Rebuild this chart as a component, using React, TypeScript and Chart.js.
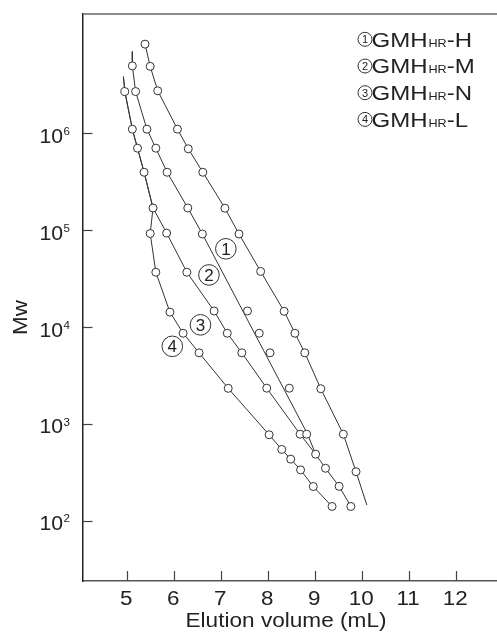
import React, { useEffect, useRef } from "react";
import { Chart, registerables } from "chart.js";

Chart.register(...registerables);

// ---- axis ticks ----
const xTicks = [5, 6, 7, 8, 9, 10, 11, 12];
const yTicks = [1e2, 1e3, 1e4, 1e5, 1e6];

// ---- ① GMHHR-H ----
const hVol = [5.39, 5.5, 5.66, 6.08, 6.31, 6.62, 7.09, 7.39, 7.85, 8.35, 8.58, 8.79, 9.13, 9.61, 9.88];
const hMw = [8.3e6, 4.9e6, 2.74e6, 1.1e6, 6.9e5, 3.95e5, 1.68e5, 9.1e4, 3.74e4, 1.45e4, 8.6e3, 5.4e3, 2.3e3, 780, 320];
const hFitVol = [5.39, 5.5, 5.66, 6.08, 6.31, 6.62, 7.09, 7.39, 7.85, 8.35, 8.58, 8.79, 9.13, 9.61, 9.88, 10.11];
const hFitMw = [8.3e6, 4.9e6, 2.74e6, 1.1e6, 6.9e5, 3.95e5, 1.68e5, 9.1e4, 3.74e4, 1.45e4, 8.6e3, 5.4e3, 2.3e3, 780, 320, 145];

// ---- ② GMHHR-M ----
const mVol = [5.12, 5.19, 5.43, 5.62, 5.86, 6.3, 6.61, 7.57, 7.82, 8.05, 8.46, 8.83];
const mMw = [4.95e6, 2.69e6, 1.1e6, 7.0e5, 3.95e5, 1.69e5, 9.1e4, 1.46e4, 8.6e3, 5.4e3, 2.33e3, 780];
const mFitVol = [5.12, 5.12, 5.19, 5.43, 5.62, 5.86, 6.3, 6.61, 8.85, 9.02];
const mFitMw = [6.97e6, 4.95e6, 2.69e6, 1.1e6, 7.0e5, 3.95e5, 1.69e5, 9.1e4, 780, 485];

// ---- ③ GMHHR-N ----
const nVol = [4.96, 5.12, 5.23, 5.37, 5.56, 5.85, 6.28, 6.86, 7.14, 7.45, 7.98, 8.69, 9.02, 9.23, 9.52, 9.77];
const nMw = [2.69e6, 1.1e6, 7.0e5, 3.95e5, 1.69e5, 9.3e4, 3.67e4, 1.46e4, 8.6e3, 5.4e3, 2.33e3, 780, 485, 347, 226, 140];
const nFitVol = [4.93, 4.96, 5.12, 5.23, 5.37, 5.56, 5.85, 6.28, 6.86, 7.14, 7.45, 7.98, 8.69, 9.02, 9.23, 9.52, 9.77];
const nFitMw = [3.84e6, 2.69e6, 1.1e6, 7.0e5, 3.95e5, 1.69e5, 9.3e4, 3.67e4, 1.46e4, 8.6e3, 5.4e3, 2.33e3, 780, 485, 347, 226, 140];

// ---- ④ GMHHR-L ----
const lVol = [5.5, 5.62, 5.92, 6.2, 6.54, 7.16, 8.03, 8.3, 8.49, 8.7, 8.97, 9.37];
const lMw = [9.2e4, 3.67e4, 1.42e4, 8.6e3, 5.4e3, 2.32e3, 770, 543, 431, 334, 225, 140];
const lFitVol = [4.93, 4.96, 5.12, 5.23, 5.37, 5.56, 5.5, 5.62, 5.92, 6.2, 6.54, 7.16, 8.03, 8.3, 8.49, 8.7, 8.97, 9.37];
const lFitMw = [3.84e6, 2.69e6, 1.1e6, 7.0e5, 3.95e5, 1.69e5, 9.2e4, 3.67e4, 1.42e4, 8.6e3, 5.4e3, 2.32e3, 770, 543, 431, 334, 225, 140];

// ---- labels ----
const seriesNums = ["1", "2", "3", "4"];
const seriesSuffix = ["H", "M", "N", "L"];
const tagVol = [7.11, 6.75, 6.57, 5.97];
const tagMw = [6.4e4, 3.44e4, 1.05e4, 6.3e3];
const xTitle = "Elution volume (mL)";
const yTitle = "Mw";

const FONT = '"Liberation Sans", Arial, sans-serif';
const INK = "#333";
const TXT = "#222";
const SX = 1.12;

const pts = (xs: number[], ys: number[]) => xs.map((v, i) => ({ x: v, y: ys[i] }));

function sText(ctx: CanvasRenderingContext2D, text: string, x: number, y: number, size: number, align: CanvasTextAlign, sx = SX) {
  ctx.save();
  ctx.font = `${size}px ${FONT}`;
  ctx.textAlign = align;
  ctx.textBaseline = "alphabetic";
  ctx.fillStyle = TXT;
  ctx.translate(x, y);
  ctx.scale(sx, 1);
  ctx.fillText(text, 0, 0);
  ctx.restore();
}

function textW(ctx: CanvasRenderingContext2D, text: string, size: number, sx = SX) {
  ctx.save();
  ctx.font = `${size}px ${FONT}`;
  const w = ctx.measureText(text).width * sx;
  ctx.restore();
  return w;
}

function circledNum(ctx: CanvasRenderingContext2D, cx: number, cy: number, r: number, num: string, size: number) {
  ctx.save();
  ctx.beginPath();
  ctx.arc(cx, cy, r, 0, Math.PI * 2);
  ctx.strokeStyle = INK;
  ctx.lineWidth = 1;
  ctx.stroke();
  ctx.font = `${size}px ${FONT}`;
  ctx.fillStyle = TXT;
  ctx.textAlign = "center";
  ctx.textBaseline = "alphabetic";
  ctx.fillText(num, cx, cy + size * 0.358);
  ctx.restore();
}

const decorPlugin = {
  id: "decor",
  afterDraw(chart: any) {
    const ctx: CanvasRenderingContext2D = chart.ctx;
    const { left, top, right, bottom } = chart.chartArea;
    const xs = chart.scales.x;
    const ys = chart.scales.y;

    // top frame line
    ctx.save();
    ctx.strokeStyle = "#666";
    ctx.lineWidth = 1.4;
    ctx.beginPath();
    ctx.moveTo(left, top);
    ctx.lineTo(right, top);
    ctx.stroke();

    // inward tick marks
    ctx.strokeStyle = "#444";
    ctx.lineWidth = 1.2;
    xs.ticks.forEach((t: any) => {
      const px = Math.round(xs.getPixelForValue(t.value)) + 0.5;
      ctx.beginPath();
      ctx.moveTo(px, bottom);
      ctx.lineTo(px, bottom - 10);
      ctx.stroke();
    });
    ys.ticks.forEach((t: any) => {
      const py = Math.round(ys.getPixelForValue(t.value)) + 0.5;
      ctx.beginPath();
      ctx.moveTo(left, py);
      ctx.lineTo(left + 9.5, py);
      ctx.stroke();
    });
    ctx.restore();

    // x tick labels
    xs.ticks.forEach((t: any) => {
      const px = xs.getPixelForValue(t.value);
      sText(ctx, String(t.value), px - 0.5, bottom + 24, 20, "center");
    });

    // y tick labels 10^n
    ys.ticks.forEach((t: any) => {
      const py = ys.getPixelForValue(t.value);
      const exp = Math.round(Math.log10(t.value));
      sText(ctx, "10", 63, py + 9.7, 20, "right", 1.06);
      sText(ctx, String(exp), 63.5, py + 1.8, 10.5, "left", 1.1);
    });

    // axis titles
    sText(ctx, xTitle, (left + right) / 2 - 4, bottom + 46, 20, "center", 1.13);
    ctx.save();
    ctx.translate(27, 317.5);
    ctx.rotate(-Math.PI / 2);
    ctx.scale(SX, 1);
    ctx.font = `20px ${FONT}`;
    ctx.fillStyle = TXT;
    ctx.textAlign = "center";
    ctx.textBaseline = "alphabetic";
    ctx.fillText(yTitle, 0, 0);
    ctx.restore();

    // legend (top right)
    const lsx = 1.2;
    seriesNums.forEach((n, i) => {
      const base = 46.5 + i * 26.7;
      circledNum(ctx, 365, base - 7.2, 7, n, 11);
      let x = 371.5;
      sText(ctx, "GMH", x, base, 20, "left", lsx);
      x += textW(ctx, "GMH", 20, lsx);
      sText(ctx, "HR", x + 1, base, 10.5, "left", lsx);
      x += textW(ctx, "HR", 10.5, lsx) + 1;
      sText(ctx, "-" + seriesSuffix[i], x, base, 20, "left", lsx);
    });

    // curve tags
    seriesNums.forEach((n, i) => {
      const cx = xs.getPixelForValue(tagVol[i]);
      const cy = ys.getPixelForValue(tagMw[i]);
      circledNum(ctx, cx, cy, 10.3, n, 17);
    });
  },
};

export default function App() {
  const ref = useRef<HTMLCanvasElement | null>(null);

  useEffect(() => {
    if (!ref.current) return;
    const fit = (xv: number[], yv: number[]) => ({
      data: pts(xv, yv),
      showLine: true,
      borderColor: INK,
      borderWidth: 1,
      pointRadius: 0,
      tension: 0,
      fill: false,
      order: 2,
    });
    const marks = (xv: number[], yv: number[]) => ({
      data: pts(xv, yv),
      showLine: false,
      pointRadius: 4,
      pointBorderWidth: 1,
      pointBorderColor: INK,
      pointBackgroundColor: "#fff",
      order: 1,
    });
    const chart = new Chart(ref.current, {
      type: "scatter",
      data: {
        datasets: [
          fit(hFitVol, hFitMw),
          fit(mFitVol, mFitMw),
          fit(nFitVol, nFitMw),
          fit(lFitVol, lFitMw),
          marks(hVol, hMw),
          marks(mVol, mMw),
          marks(nVol, nMw),
          marks(lVol, lMw),
        ] as any,
      },
      options: {
        responsive: false,
        animation: false,
        devicePixelRatio: 1,
        events: [],
        layout: { autoPadding: false, padding: { left: 83, top: 14, right: 0, bottom: 51 } },
        plugins: { legend: { display: false }, tooltip: { enabled: false } },
        scales: {
          x: {
            type: "linear",
            min: 4.07,
            max: 12.88,
            bounds: "data",
            afterBuildTicks: (s: any) => {
              s.ticks = xTicks.map((v) => ({ value: v }));
            },
            ticks: { display: false },
            grid: { display: true, drawOnChartArea: false, drawTicks: false },
            border: { display: true, color: "#555", width: 1.5 },
          },
          y: {
            type: "logarithmic",
            min: 23.8,
            max: 1.7e7,
            bounds: "data",
            afterBuildTicks: (s: any) => {
              s.ticks = yTicks.map((v) => ({ value: v }));
            },
            ticks: { display: false },
            grid: { display: true, drawOnChartArea: false, drawTicks: false },
            border: { display: true, color: "#222", width: 1.5 },
          },
        },
      } as any,
      plugins: [decorPlugin],
    });
    return () => chart.destroy();
  }, []);

  return (
    <div style={{ position: "absolute", left: 0, top: 0, width: 497, height: 632, background: "#fff" }}>
      <canvas ref={ref} width={497} height={632} style={{ display: "block" }} />
    </div>
  );
}
